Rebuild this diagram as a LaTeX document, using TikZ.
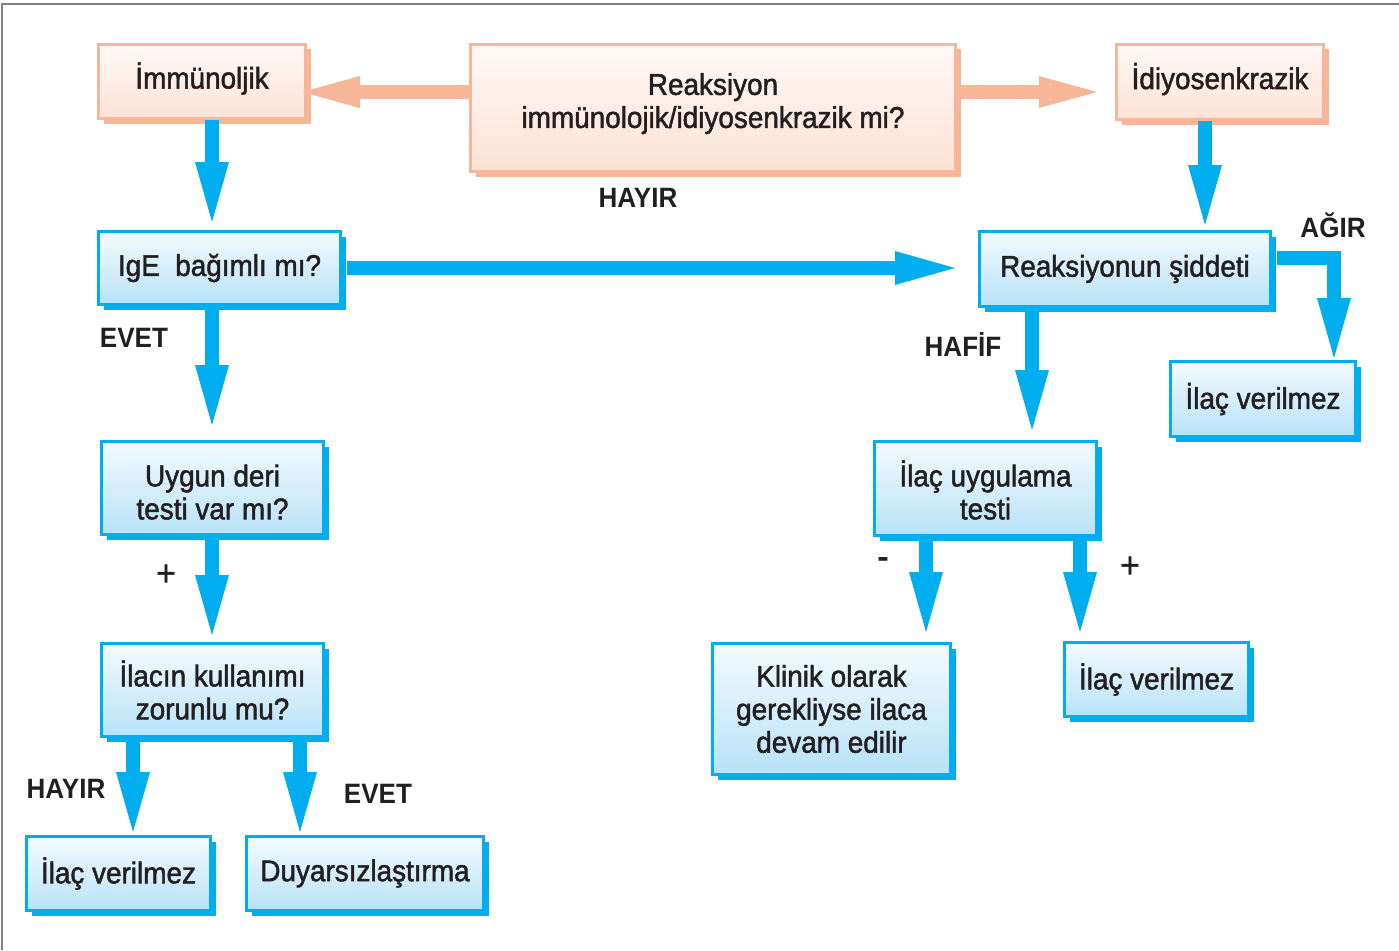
\documentclass[tikz,border=0pt]{standalone}
\usepackage{fontspec}
\setmainfont{Liberation Sans}[FakeStretch=0.93, UprightFeatures={FakeBold=1.6}]
\usetikzlibrary{arrows.meta,shadows}
\definecolor{cyanB}{RGB}{0,174,239}
\definecolor{blueTop}{RGB}{244,251,254}
\definecolor{blueBot}{RGB}{183,226,248}
\definecolor{orB}{RGB}{248,182,153}
\definecolor{orTop}{RGB}{255,249,246}
\definecolor{orBot}{RGB}{253,226,214}
\definecolor{txt}{RGB}{35,31,32}
\definecolor{frameC}{RGB}{128,128,128}
\begin{document}
\begin{tikzpicture}[x=1pt,y=-1pt,
  font=\fontsize{30}{33}\selectfont, text=txt,
  bbox/.style={draw=cyanB, line width=3pt, top color=blueTop, bottom color=blueBot,
    general shadow={fill=cyanB, shadow xshift=5pt, shadow yshift=-5pt},
    align=center, inner sep=0pt},
  obox/.style={draw=orB, line width=3pt, top color=orTop, bottom color=orBot,
    general shadow={fill=orB, shadow xshift=5pt, shadow yshift=-5pt},
    align=center, inner sep=0pt},
  barr/.style={draw=cyanB, line width=14pt, line join=miter,
    -{Triangle[length=60pt,width=34pt,line width=0pt]}},
  oarr/.style={draw=orB, line width=14pt,
    -{Triangle[length=58pt,width=32pt,line width=0pt]}},
  lbl/.style={font=\fontsize{28}{30}\selectfont\bfseries},
  sgn/.style={font=\fontsize{36}{38}\selectfont}
]
\useasboundingbox (0,0) rectangle (1399,950);
\draw[frameC, line width=2pt] (1399,4) -- (2,4) -- (2,950);

% orange boxes
\node[obox, minimum width=207pt, minimum height=74pt, text depth=12pt] (imm) at (202,81.5) {İmmünoljik};
\node[obox, minimum width=485pt, minimum height=127pt, text depth=15pt] (q) at (713,108) {Reaksiyon\\immünolojik/idiyosenkrazik mi?};
\node[obox, minimum width=207pt, minimum height=75pt, text depth=12pt] (idi) at (1220,82) {İdiyosenkrazik};

% blue boxes
\node[bbox, minimum width=242pt, minimum height=73pt] (ige) at (219.5,268) {IgE\ \ bağımlı mı?};
\node[bbox, minimum width=291pt, minimum height=75pt] (reak) at (1125,269) {Reaksiyonun şiddeti};
\node[bbox, minimum width=185pt, minimum height=75pt] (ilac2) at (1263,399) {İlaç verilmez};
\node[bbox, minimum width=222pt, minimum height=93pt, text height=63pt] (uyg) at (212.5,488) {Uygun deri\\testi var mı?};
\node[bbox, minimum width=222pt, minimum height=94pt, text height=62pt] (test) at (985.5,488.5) {İlaç uygulama\\testi};
\node[bbox, minimum width=222pt, minimum height=93pt] (ilacin) at (212.5,690) {İlacın kullanımı\\zorunlu mu?};
\node[bbox, minimum width=238pt, minimum height=131pt] (klinik) at (831.5,709) {Klinik olarak\\gerekliyse ilaca\\devam edilir};
\node[bbox, minimum width=184pt, minimum height=74pt] (ilac3) at (1156.5,679.5) {İlaç verilmez};
\node[bbox, minimum width=184pt, minimum height=74pt] (ilac1) at (118.5,873.5) {İlaç verilmez};
\node[bbox, minimum width=237pt, minimum height=74pt] (duy) at (365,873.5) {Duyarsızlaştırma};

% orange arrows
\draw[oarr, shorten >=-5pt] ([yshift=16pt]q.west) -- ([yshift=-10.5pt]imm.east);
\draw[oarr, shorten >=18pt] ([yshift=16pt]q.east) -- ([yshift=-10pt]idi.west);

% blue arrows
\draw[barr, shorten >=8pt] ([xshift=10pt]imm.south) -- ([xshift=-7.5pt]ige.north);
\draw[barr, shorten >=15pt] ([xshift=-7.5pt]ige.south) -- ([xshift=-0.5pt]uyg.north);
\draw[barr, shorten >=7pt] ([xshift=-0.5pt]uyg.south) -- ([xshift=-0.5pt]ilacin.north);
\draw[barr, shorten >=3pt] ([xshift=-79.5pt]ilacin.south) -- ([xshift=14.5pt]ilac1.north);
\draw[barr, shorten >=3pt] ([xshift=87.5pt]ilacin.south) -- ([xshift=-65pt]duy.north);
\draw[barr, shorten <=5pt, shorten >=23pt] (ige.east) -- (ige.east -| reak.west);
\draw[barr, shorten >=5pt] ([xshift=-15pt]idi.south) -- ([xshift=80pt]reak.north);
\draw[barr, shorten >=10pt] ([xshift=-93pt]reak.south) -- ([xshift=46.5pt]test.north);
\draw[barr, shorten <=5pt, shorten >=2pt] ([yshift=11pt]reak.east) -| ([xshift=71pt]ilac2.north);
\draw[barr, shorten >=10pt] ([xshift=-59.5pt]test.south) -- ([xshift=94.5pt]klinik.north);
\draw[barr, shorten >=9pt] ([xshift=94.5pt]test.south) -- ([xshift=-76.5pt]ilac3.north);

% labels
\node[lbl] (l1) at (638,198) {HAYIR};
\node[lbl] (l2) at (134,338) {EVET};
\node[sgn] (l3) at (166,575) {+};
\node[lbl] (l4) at (66,789) {HAYIR};
\node[lbl] (l5) at (378,794) {EVET};
\node[lbl] (l6) at (1333,225) {AĞIR};
\node[lbl] (l7) at (963,345) {HAFİF};
\node[sgn] (l8) at (883,563) {-};
\node[sgn] (l9) at (1130,567) {+};
\end{tikzpicture}
\end{document}
